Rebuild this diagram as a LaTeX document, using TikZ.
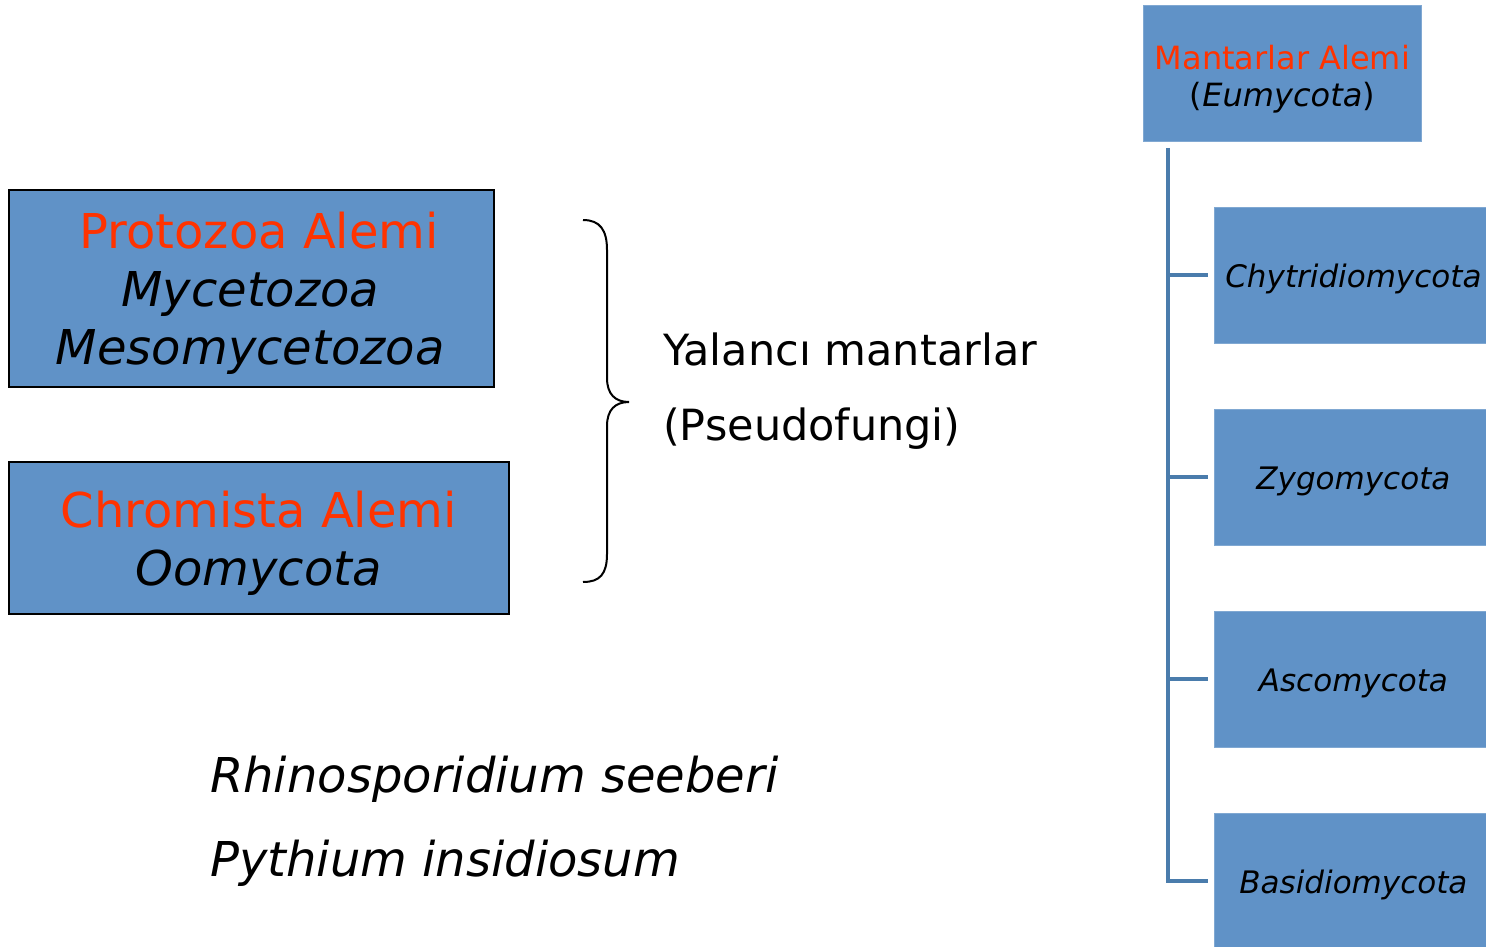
\documentclass[tikz,border=0pt]{standalone}
\usepackage{fontspec}
\setmainfont{DejaVu Sans}
\definecolor{boxblue}{RGB}{96,146,199}
\definecolor{linkblue}{RGB}{74,124,172}
\definecolor{kingred}{RGB}{255,51,0}
\begin{document}
\begin{tikzpicture}[x=1pt,y=-1pt,
  leftbox/.style={draw=black,line width=1.5pt,fill=boxblue,inner sep=0pt,anchor=north west},
  leftlabel/.style={inner sep=0pt,align=center,font=\fontsize{48}{58}\selectfont},
  topbox/.style={draw=boxblue!80!white,line width=0.8pt,fill=boxblue,inner sep=0pt,anchor=north west,minimum width=278pt,minimum height=136pt},
  toplabel/.style={inner sep=0pt,align=center,font=\fontsize{32}{37}\selectfont},
  childbox/.style={topbox,font=\fontsize{31}{37}\selectfont\itshape,text height=24pt,text depth=0pt},
  link/.style={draw=linkblue,line width=4.5pt},
  bigtext/.style={anchor=base west,inner sep=0pt,font=\fontsize{43}{50}\selectfont},
  specimen/.style={anchor=base west,inner sep=0pt,font=\fontsize{48}{58}\selectfont\itshape}]
\useasboundingbox (0,0) rectangle (1486,947);
\clip (0,0) rectangle (1486,947);
% left boxes
\node[leftbox,minimum width=485pt,minimum height=197pt] (proto) at (8,189) {};
\node[leftlabel] (protolbl) at ([xshift=-1pt,yshift=-5pt]proto.center)
  {\hspace*{18pt}\textcolor{kingred}{Protozoa Alemi}\\ \textit{Mycetozoa}\\ \textit{Mesomycetozoa}};
\node[leftbox,minimum width=500pt,minimum height=152pt] (chrom) at (8,461) {};
\node[leftlabel] (chromlbl) at ([yshift=-6pt]chrom.center)
  {\textcolor{kingred}{Chromista Alemi}\\ \textit{Oomycota}};
% brace
\coordinate (bt) at (583,220);
\coordinate (bb) at (583,582);
\coordinate (btip) at (629,402);
\draw[line width=2pt] (bt) .. controls (600,220) and (607,230) .. (607,250)
  -- (607,378) .. controls (607,394) and (615,402) .. (btip)
  .. controls (615,402) and (607,410) .. (607,426)
  -- (607,554) .. controls (607,574) and (600,582) .. (bb);
% pseudofungi text
\node[bigtext] (yal) at (663,365) {Yalancı mantarlar};
\node[bigtext] (pseudo) at (663,440) {(Pseudofungi)};
% specimens
\node[specimen] (rhino) at (210,792) {Rhinosporidium seeberi};
\node[specimen] (pyth) at (210,876) {Pythium insidiosum};
% right tree
\node[topbox] (mant) at (1143,5) {};
\node[toplabel] (mantlbl) at ([yshift=-6pt]mant.center) {\textcolor{kingred}{Mantarlar Alemi}\\(\textit{Eumycota})};
\node[childbox] (chy) at (1214,207) {Chytridiomycota};
\node[childbox] (zyg) at (1214,409) {Zygomycota};
\node[childbox] (asc) at (1214,611) {Ascomycota};
\node[childbox] (bas) at (1214,813) {Basidiomycota};
\coordinate (trunk) at (1168,148);
\coordinate (c1) at (1168,275);
\coordinate (c2) at (1168,477);
\coordinate (c3) at (1168,679);
\coordinate (c4) at (1168,881);
\draw[link] (trunk) -- (c4) -- ([xshift=-6pt]bas.west |- c4);
\draw[link] (c1) -- ([xshift=-6pt]chy.west |- c1);
\draw[link] (c2) -- ([xshift=-6pt]zyg.west |- c2);
\draw[link] (c3) -- ([xshift=-6pt]asc.west |- c3);
\end{tikzpicture}
\end{document}
